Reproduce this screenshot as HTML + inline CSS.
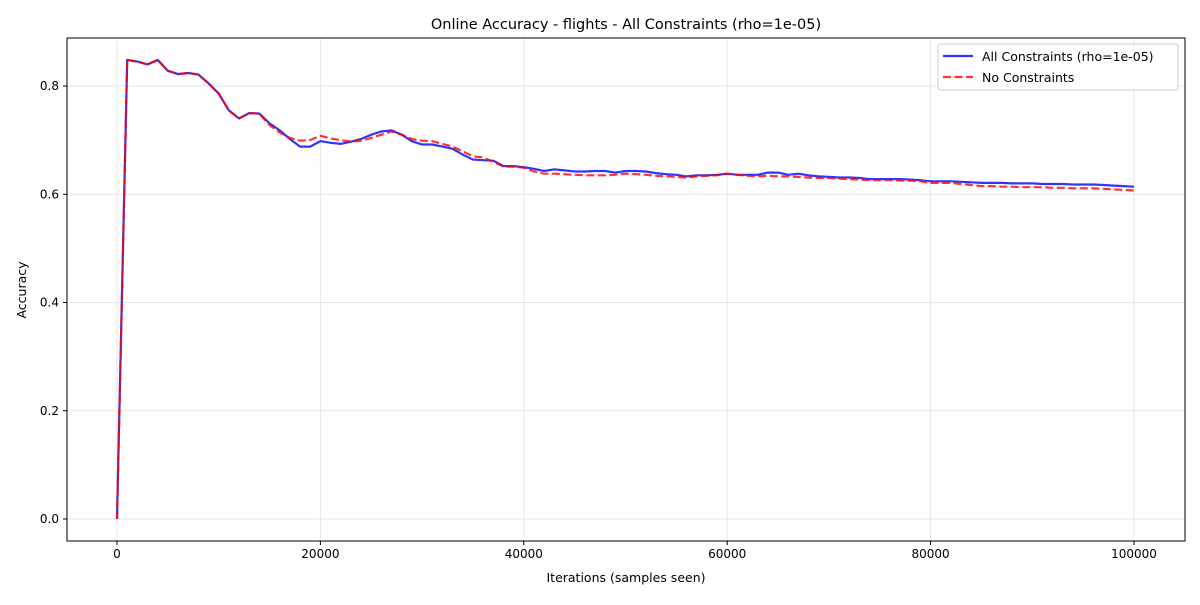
<!DOCTYPE html>
<html><head><meta charset="utf-8"><style>
body{margin:0;background:#fff;font-family:"Liberation Sans","DejaVu Sans",sans-serif}
svg text{font-family:"DejaVu Sans","Liberation Sans",sans-serif}
</style></head><body>
<svg id="chart" width="1200" height="600"></svg>
<script>
const iterations = Array.from({length:101},(_,i)=>i*1000);
const allConstraints = [0,0.848,0.845,0.840,0.848,0.828,0.822,0.824,0.821,0.805,0.786,0.755,0.740,0.750,0.749,0.731,0.718,0.702,0.688,0.688,0.698,0.695,0.693,0.697,0.702,0.710,0.716,0.718,0.710,0.698,0.692,0.692,0.688,0.684,0.673,0.664,0.663,0.662,0.652,0.652,0.650,0.647,0.643,0.646,0.644,0.642,0.642,0.643,0.643,0.640,0.643,0.643,0.642,0.639,0.637,0.636,0.633,0.635,0.635,0.636,0.638,0.636,0.636,0.636,0.640,0.640,0.636,0.638,0.635,0.633,0.632,0.631,0.631,0.630,0.628,0.628,0.628,0.628,0.627,0.626,0.624,0.624,0.624,0.623,0.622,0.621,0.621,0.621,0.620,0.620,0.620,0.619,0.619,0.619,0.618,0.618,0.618,0.617,0.616,0.615,0.614];
const noConstraints = [0,0.848,0.845,0.840,0.848,0.828,0.822,0.824,0.821,0.805,0.786,0.755,0.740,0.750,0.749,0.728,0.714,0.704,0.699,0.700,0.708,0.703,0.700,0.697,0.699,0.704,0.710,0.716,0.710,0.702,0.699,0.698,0.693,0.688,0.679,0.670,0.668,0.660,0.651,0.651,0.649,0.642,0.638,0.638,0.637,0.636,0.635,0.635,0.635,0.636,0.638,0.637,0.636,0.634,0.633,0.632,0.631,0.633,0.634,0.635,0.638,0.636,0.634,0.633,0.634,0.633,0.633,0.632,0.631,0.630,0.630,0.629,0.628,0.627,0.626,0.626,0.626,0.625,0.625,0.624,0.621,0.621,0.621,0.619,0.617,0.615,0.615,0.614,0.614,0.613,0.613,0.613,0.612,0.612,0.611,0.611,0.611,0.610,0.609,0.608,0.607];
const xTicks = [0,20000,40000,60000,80000,100000];
const yTicks = [0,0.2,0.4,0.6,0.8];

const svg=document.getElementById('chart');const NS='http://www.w3.org/2000/svg';
const L=67,R=1185,T=38,B=541;
const xs=v=>117+(v/100000)*(1134-117);
const ys=v=>519-(v/0.8)*(519-86);
function mk(tag,attrs,parent){const e=document.createElementNS(NS,tag);for(const k in attrs)e.setAttribute(k,attrs[k]);(parent||svg).appendChild(e);return e;}
const grid=mk('g',{});


xTicks.forEach(t=>{mk('line',{x1:xs(t),x2:xs(t),y1:T,y2:B,stroke:'#e6e6e6','stroke-width':1},grid);
 const tl=mk('text',{x:xs(t),y:B+17,'text-anchor':'middle','font-size':12,fill:'#000'});tl.textContent=t;
 
 
 mk('line',{x1:xs(t),x2:xs(t),y1:B,y2:B+4,stroke:'#000'});});
yTicks.forEach(t=>{mk('line',{x1:L,x2:R,y1:ys(t),y2:ys(t),stroke:'#e6e6e6','stroke-width':1},grid);
 const tl=mk('text',{x:L-8,y:ys(t)+4,'text-anchor':'end','font-size':12,fill:'#000'});tl.textContent=t.toFixed(1);
 
 
 mk('line',{x1:L-4,x2:L,y1:ys(t),y2:ys(t),stroke:'#000'});});
function pts(arr){return arr.map((v,i)=>xs(iterations[i]).toFixed(1)+','+ys(v).toFixed(1)).join(' ');}
const l1=mk('polyline',{points:pts(allConstraints),fill:'none',stroke:'#0000ff','stroke-opacity':0.8,'stroke-width':2.2});


const l2=mk('polyline',{points:pts(noConstraints),fill:'none',stroke:'#ff0000','stroke-opacity':0.8,'stroke-width':2.2,'stroke-dasharray':'8,3.5'});


const fr=mk('rect',{x:L,y:T,width:R-L,height:B-T,fill:'none',stroke:'#000','stroke-width':1});


const ti=mk('text',{x:626,y:29,'text-anchor':'middle','font-size':14.5});ti.textContent='Online Accuracy - flights - All Constraints (rho=1e-05)';


const xt=mk('text',{x:626,y:582,'text-anchor':'middle','font-size':12.5});xt.textContent='Iterations (samples seen)';


const yt=mk('text',{x:26,y:290,'text-anchor':'middle','font-size':12.5,transform:'rotate(-90 26 290)'});yt.textContent='Accuracy';


const lg=mk('g',{});


mk('rect',{x:938,y:44,width:240,height:46,rx:3,fill:'#fff','fill-opacity':0.8,stroke:'#ccc'},lg);
mk('line',{x1:943,x2:973,y1:56,y2:56,stroke:'#0000ff','stroke-opacity':0.8,'stroke-width':2.2},lg);
mk('line',{x1:943,x2:973,y1:77,y2:77,stroke:'#ff0000','stroke-opacity':0.8,'stroke-width':2.2,'stroke-dasharray':'8,3.5'},lg);
const e1=mk('text',{x:982,y:61,'font-size':12.5},lg);e1.textContent='All Constraints (rho=1e-05)';


const e2=mk('text',{x:982,y:82,'font-size':12.5},lg);e2.textContent='No Constraints';


</script>
</body></html>
